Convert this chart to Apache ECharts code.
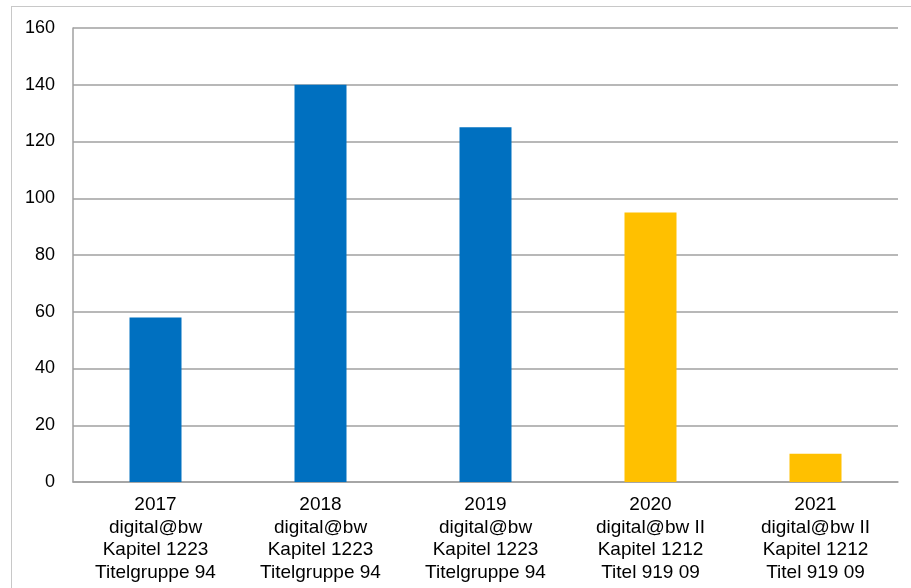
<!DOCTYPE html>
<html><head><meta charset="utf-8">
<script src="https://cdn.jsdelivr.net/npm/echarts@6/dist/echarts.min.js"></script>
<style>html,body{margin:0;padding:0;background:#fff}#frame{position:absolute;left:11px;top:6px;width:920px;height:600px;border:1px solid #c8c8c8;box-sizing:border-box}#c{position:absolute;left:0;top:0;width:911px;height:588px}</style>
</head><body><div id="frame"></div><div id="c"></div>
<script>
const categories = ["2017\ndigital@bw\nKapitel 1223\nTitelgruppe 94","2018\ndigital@bw\nKapitel 1223\nTitelgruppe 94","2019\ndigital@bw\nKapitel 1223\nTitelgruppe 94","2020\ndigital@bw II\nKapitel 1212\nTitel 919 09","2021\ndigital@bw II\nKapitel 1212\nTitel 919 09"];
const values = [58, 140, 125, 95, 10];
const colors = ["#0070C0","#0070C0","#0070C0","#FFC000","#FFC000"];
const chart = echarts.init(document.getElementById('c'));
chart.setOption({
  animation:false,
  grid:{left:73,right:13,top:28,bottom:106,containLabel:false},
  xAxis:{type:'category',data:categories,
    axisLine:{lineStyle:{color:'#a0a0a0',width:1.5}},axisTick:{show:false},
    axisLabel:{color:'#000',fontFamily:'Liberation Sans, Arial',fontSize:19,lineHeight:22.5,margin:12,interval:0}},
  yAxis:{type:'value',min:0,max:160,interval:20,
    axisLine:{show:true,lineStyle:{color:'#a0a0a0',width:1.5}},axisTick:{show:false},
    splitLine:{lineStyle:{color:'#a0a0a0',width:1.5}},
    axisLabel:{color:'#000',fontFamily:'Liberation Sans, Arial',fontSize:18,margin:18}},
  series:[{type:'bar',barWidth:52,data:values.map((v,i)=>({value:v,itemStyle:{color:colors[i]}}))}]
});
</script></body></html>
